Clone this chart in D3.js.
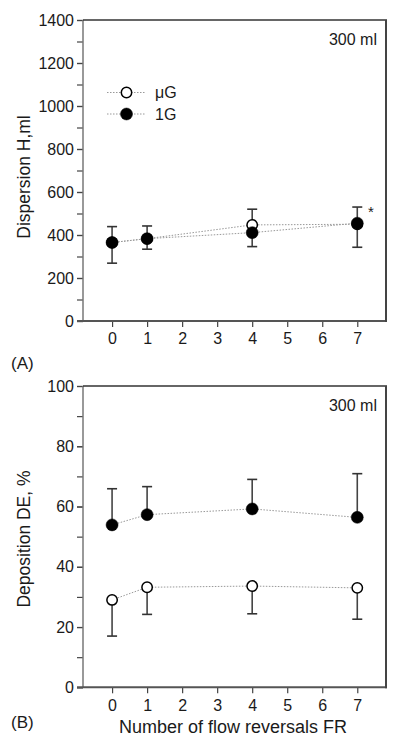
<!DOCTYPE html>
<html><head><meta charset="utf-8">
<script src="https://cdn.jsdelivr.net/npm/d3@7"></script>
<style>body{margin:0;background:#fff}svg{display:block}text{font-family:"Liberation Sans",Arial,sans-serif;fill:#1a1a1a}</style>
</head><body>
<script>
const xs = [0, 1, 4, 7];
const xTicks = [0, 1, 2, 3, 4, 5, 6, 7];
// Panel A: Dispersion H, ml
const aMuG = [365, 383, 447, 450];
const a1G = [365, 383, 411, 455];
const aErrHigh = [439, 442, 520, 530];
const aErrLow = [269, 334, 346, 343];
const aTicks = [0, 200, 400, 600, 800, 1000, 1200, 1400];
// Panel B: Deposition DE, %
const bMuG = [29.0, 33.2, 33.6, 33.0];
const b1G = [53.9, 57.3, 59.2, 56.4];
const b1GErrHigh = [65.9, 66.6, 69.0, 70.9];
const bMuGErrLow = [17.0, 24.2, 24.4, 22.6];
const bTicks = [0, 20, 40, 60, 80, 100];

const W = 400, H = 748;
const FONT = '"Liberation Sans",Arial,sans-serif';
const svg = d3.select("body").append("svg").attr("width", W).attr("height", H);
const x = d3.scaleLinear().domain([-0.83, 7.82]).range([83, 386]);

function panel(top, bottom, ymax, minorStep, ticks, ylab, ylabY, letter, letterY) {
  const y = d3.scaleLinear().domain([0, ymax]).range([bottom, top]);
  const g = svg.append("g");
  const minor = d3.range(0, ymax + 0.001, minorStep);
  g.append("g").attr("transform", `translate(83,0)`)
    .call(d3.axisLeft(y).tickValues(minor).tickSize(6).tickFormat(""))
    .call(s => s.select(".domain").remove())
    .call(s => s.selectAll("line").attr("stroke", "#444").attr("stroke-width", 1.2));
  g.append("g").attr("transform", `translate(83,0)`)
    .call(d3.axisLeft(y).tickValues(ticks).tickSize(6).tickPadding(3).tickFormat(d3.format("d")))
    .call(s => s.select(".domain").remove())
    .call(s => s.selectAll("line").attr("stroke", "#444").attr("stroke-width", 1.2))
    .call(s => s.selectAll("text").attr("font-size", 16).attr("fill", "#1a1a1a").style("font-family", FONT));
  g.append("g").attr("transform", `translate(0,${bottom})`)
    .call(d3.axisBottom(x).tickValues(xTicks).tickSize(6).tickPadding(6))
    .call(s => s.select(".domain").remove())
    .call(s => s.selectAll("line").attr("stroke", "#444").attr("stroke-width", 1.2))
    .call(s => s.selectAll("text").attr("font-size", 16).attr("fill", "#1a1a1a").style("font-family", FONT));
  // frame
  g.append("line").attr("x1", 83).attr("x2", 83).attr("y1", top).attr("y2", bottom)
    .attr("stroke", "#777").attr("stroke-width", 1.5);
  g.append("line").attr("x1", 77).attr("x2", 387).attr("y1", bottom).attr("y2", bottom)
    .attr("stroke", "#555").attr("stroke-width", 2);
  g.append("line").attr("x1", 83).attr("x2", 387).attr("y1", top).attr("y2", top)
    .attr("stroke", "#333").attr("stroke-width", 1.5);
  g.append("line").attr("x1", 386).attr("x2", 386).attr("y1", top).attr("y2", bottom + 1)
    .attr("stroke", "#444").attr("stroke-width", 2);
  g.append("text").attr("x", 377).attr("y", top + 25).attr("text-anchor", "end")
    .attr("font-size", 16).text("300 ml");
  g.append("text").attr("transform", `translate(30,${ylabY}) rotate(-90)`)
    .attr("text-anchor", "middle").attr("font-size", 17.5).text(ylab);
  g.append("text").attr("x", 11).attr("y", letterY).attr("font-size", 17).text(letter);
  return {g, y};
}

function errBars(g, y, base, ends) {
  xs.forEach((xv, i) => {
    g.append("line").attr("x1", x(xv)).attr("x2", x(xv)).attr("y1", y(base[i])).attr("y2", y(ends[i]))
      .attr("stroke", "#444").attr("stroke-width", 1.6);
    g.append("line").attr("x1", x(xv) - 5).attr("x2", x(xv) + 5).attr("y1", y(ends[i])).attr("y2", y(ends[i]))
      .attr("stroke", "#333").attr("stroke-width", 1.6);
  });
}
function series(g, y, vals, filled) {
  g.append("path").datum(vals)
    .attr("d", d3.line().x((d, i) => x(xs[i])).y(d => y(d)))
    .attr("fill", "none").attr("stroke", "#999").attr("stroke-width", 1).attr("stroke-dasharray", "1.5,1.5");
  g.selectAll(null).data(vals).enter().append("circle")
    .attr("cx", (d, i) => x(xs[i])).attr("cy", d => y(d))
    .attr("r", filled ? 6 : 5.2)
    .attr("fill", filled ? "#000" : "#fff").attr("stroke", "#000").attr("stroke-width", filled ? 0.5 : 1.5);
}

// Panel A
const A = panel(20, 321, 1400, 100, aTicks, "Dispersion H,ml", 177, "(A)", 369);
errBars(A.g, A.y, a1G, aErrHigh);
errBars(A.g, A.y, a1G, aErrLow);
series(A.g, A.y, aMuG, false);
series(A.g, A.y, a1G, true);
A.g.append("text").attr("x", 371).attr("y", 217).attr("text-anchor", "middle").attr("font-size", 15).text("*");
// legend
const leg = [{label: "\u03bcG", filled: false, yy: 92.5}, {label: "1G", filled: true, yy: 114}];
leg.forEach(l => {
  A.g.append("line").attr("x1", 107).attr("x2", 145).attr("y1", l.yy).attr("y2", l.yy)
    .attr("stroke", "#999").attr("stroke-width", 1).attr("stroke-dasharray", "1.5,1.5");
  A.g.append("circle").attr("cx", 126.5).attr("cy", l.yy).attr("r", l.filled ? 6 : 5.2)
    .attr("fill", l.filled ? "#000" : "#fff").attr("stroke", "#000").attr("stroke-width", l.filled ? 0.5 : 1.5);
  A.g.append("text").attr("x", 155).attr("y", l.yy + 5.5).attr("font-size", 16).text(l.label);
});

// Panel B
const B = panel(386, 687.3, 100, 10, bTicks, "Deposition DE, %", 539, "(B)", 728);
errBars(B.g, B.y, b1G, b1GErrHigh);
errBars(B.g, B.y, bMuG, bMuGErrLow);
series(B.g, B.y, b1G, true);
series(B.g, B.y, bMuG, false);
B.g.append("text").attr("x", 233).attr("y", 733).attr("text-anchor", "middle").attr("font-size", 18)
  .text("Number of flow reversals FR");
</script>
</body></html>
